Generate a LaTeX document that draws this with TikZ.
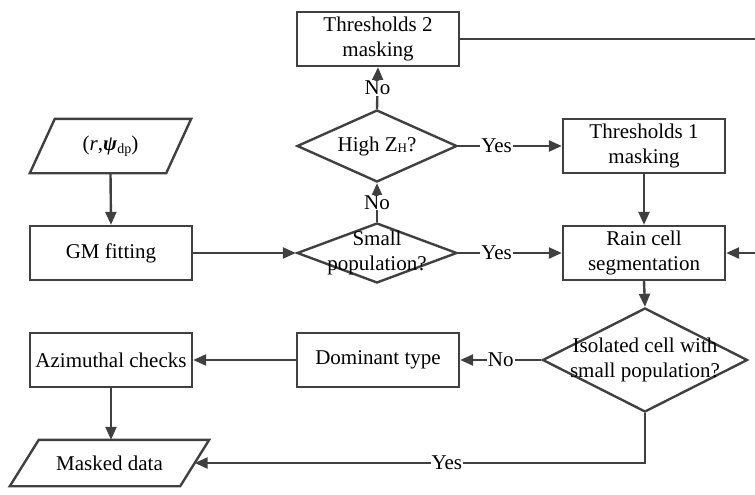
\documentclass[tikz,border=0pt]{standalone}
\usepackage{fontspec}
\setmainfont{Liberation Serif}
\usetikzlibrary{shapes.geometric,arrows.meta}
\definecolor{ln}{HTML}{404040}
\begin{document}
\begin{tikzpicture}[x=1pt,y=-1pt,
 every node/.append style={font=\fontsize{21}{25}\selectfont},
 box/.style={draw=ln, line width=2.4pt, minimum width=162pt, minimum height=54pt, align=center, inner sep=2pt},
 dia/.style={draw=ln, line width=2.4pt, diamond, inner sep=0pt},
 paraframe/.style={minimum height=54pt, align=center, inner sep=0pt},
 con/.style={draw=ln, line width=2.4pt, -{Triangle[length=13pt,width=11pt]}},
 plain/.style={draw=ln, line width=2.4pt},
 lab/.style={fill=white, inner sep=1pt, text=black},
 dtext/.style={align=center, inner sep=0pt}
]
\useasboundingbox (0,0) rectangle (755,495);
\coordinate (rightA) at (755,41);
\coordinate (rightB) at (755,253);

% nodes
\node[box] (t2) at (378,39) {Thresholds 2\\masking};
\node[dia, minimum width=160pt, minimum height=72pt,
  label={[dtext]center:High Z\raisebox{-1pt}{\fontsize{13}{13}\selectfont H}?}] (hz) at (377,146) {};
\node[box] (t1) at (644,146) {Thresholds 1\\masking};
\node[box] (rc) at (644,253) {Rain cell\\segmentation};
\node[dia, minimum width=160pt, minimum height=60pt,
  label={[dtext]center:Small\\population?}] (sp) at (377,253) {};
\node[box] (gm) at (111,253) {GM fitting};
\node[paraframe, minimum width=136pt] (rp) at (110.5,146) {(\textit{r},\textbf{\textit{ψ}}\raisebox{-3pt}{\fontsize{14}{14}\selectfont dp})};
\node[dia, minimum width=205pt, minimum height=104pt,
  label={[dtext]center:Isolated cell with\\small population?}] (iso) at (645,360) {};
\node[box] (dom) at (378,360) {Dominant type};
\node[box] (az) at (111,360) {Azimuthal checks};
\node[paraframe, minimum width=170pt, minimum height=46pt] (md) at (109.5,463) {Masked data};

% parallelogram outlines
\draw[plain, line join=miter] ([xshift=-12.5pt]rp.south west) -- ([xshift=12.5pt]rp.north west)
  -- ([xshift=12.5pt]rp.north east) -- ([xshift=-12.5pt]rp.south east) -- cycle;
\draw[plain, line join=miter] ([xshift=-14.5pt]md.south west) -- ([xshift=14.5pt]md.north west)
  -- ([xshift=14.5pt]md.north east) -- ([xshift=-14.5pt]md.south east) -- cycle;

% connectors
\draw[plain] (t2.east) -- (t2.east -| rightA);
\draw[con] (hz.north) -- node[lab]{No} (t2.south);
\draw[con] (hz.east) -- node[lab, pos=0.37]{Yes} (t1.west);
\draw[con] (t1.south) -- (rc.north);
\draw[con] (rightB) -- (rc.east);
\draw[con] (sp.north) -- node[lab]{No} (hz.south);
\draw[con] (sp.east) -- node[lab, pos=0.37]{Yes} (rc.west);
\draw[con] (gm.east) -- (sp.west);
\draw[con] (rp.south) -- (gm.north);
\draw[con] (rc.south) -- (iso.north);
\draw[con] (iso.west) -- node[lab, pos=0.5]{No} (dom.east);
\draw[con] (dom.west) -- (az.east);
\draw[con] (az.south) -- (az.south |- md.north);
\draw[con] (iso.south) |- node[lab, pos=0.72]{Yes} (md.east);
\end{tikzpicture}
\end{document}
